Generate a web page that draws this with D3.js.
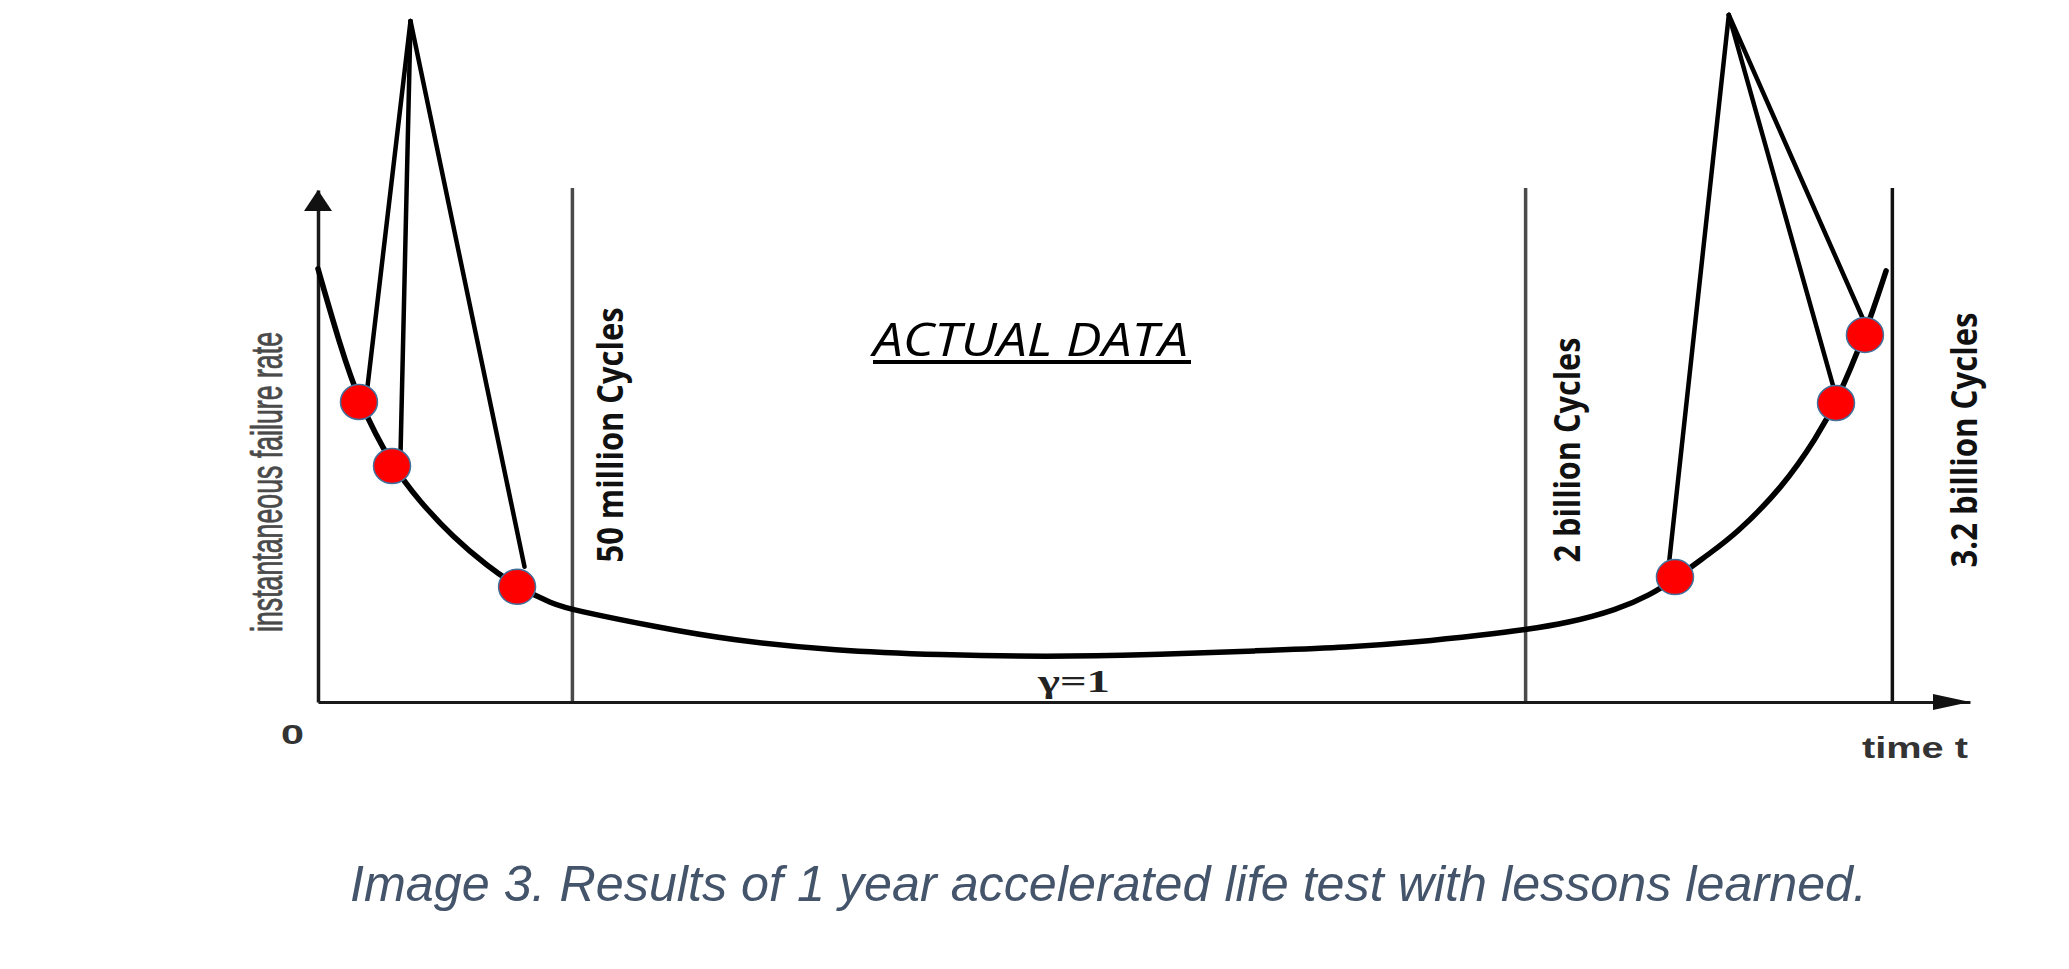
<!DOCTYPE html>
<html>
<head>
<meta charset="utf-8">
<script src="https://cdn.jsdelivr.net/npm/d3@7/dist/d3.min.js"></script>
<style>
  html, body { margin: 0; padding: 0; background: #ffffff; }
  svg { display: block; }
</style>
</head>
<body>
<div id="chart"></div>
<script>
// Bathtub curve (time and rate in % of axis length)
const curveT    = [0, 1.33, 2.48, 4.48, 6.17, 8.17, 10.23, 12.05, 14.23, 15.38, 20.7, 24.94, 31.35, 37.71, 44.07, 50.42, 56.84, 62.47, 66.53, 70.52, 73.06, 75.61, 78.63, 80.63, 82.14, 84.26, 85.77, 88.68, 90.74, 91.89, 93.64, 94.92];
const curveRate = [84.6, 69.7, 58.6, 46.1, 39.1, 32.2, 26.6, 22.5, 19.1, 18.0, 14.5, 12.1, 10.0, 9.2, 8.8, 9.2, 10.0, 10.7, 11.7, 13.1, 14.1, 15.4, 18.0, 20.9, 24.0, 29.1, 32.6, 42.0, 51.8, 58.4, 71.7, 84.2];

// Failures observed during the test (red dots)
const failT    = [2.48, 4.48, 12.05, 82.14, 91.89, 93.64];
const failRate = [58.6, 46.1, 22.5, 24.4, 58.4, 71.7];

// Callout lines: apex for each group and the end point near each dot
const apexT    = [5.6, 5.6, 5.6, 85.4, 85.4, 85.4];
const apexRate = [133, 133, 133, 134.2, 134.2, 134.2];
const tipT     = [3.0, 5.0, 12.5, 81.8, 91.7, 93.5];
const tipRate  = [61.7, 49.2, 26.4, 27.7, 61.9, 75.0];

// Cycle markers
const markerLabels = ['50 million Cycles', '2 billion Cycles', '3.2 billion Cycles'];
const markerT      = [15.4, 73.1, 95.3];
const markerColors = ['#4a4a4a', '#4a4a4a', '#111111'];

const yLabel   = 'instantaneous failure rate';
const xLabel   = 'time t';
const originLabel = '0';
const gammaLabel  = 'γ=1';
const titleLabel  = 'ACTUAL DATA';
const caption  = 'Image 3. Results of 1 year accelerated life test with lessons learned.';

const width = 2069, height = 969;

const svg = d3.select('#chart')
    .append('svg')
    .attr('width', width)
    .attr('height', height)
    .attr('viewBox', [0, 0, width, height]);

const x = d3.scaleLinear().domain([0, 100]).range([318, 1970]);
const y = d3.scaleLinear().domain([0, 100]).range([702, 190]);

// Marker lines (drawn under everything else)
svg.append('g')
    .selectAll('line')
    .data(markerT)
    .join('line')
    .attr('x1', d => x(d))
    .attr('x2', d => x(d))
    .attr('y1', y(0))
    .attr('y2', y(0) - 514)
    .attr('stroke', (d, i) => markerColors[i])
    .attr('stroke-width', 3.5);

// Axes without ticks, just the domain line
const xAxis = svg.append('g')
    .attr('transform', `translate(0,${y(0)})`)
    .call(d3.axisBottom(x).tickValues([]).tickSizeOuter(0));
const yAxis = svg.append('g')
    .attr('transform', `translate(${x(0)},0)`)
    .call(d3.axisLeft(y).tickValues([]).tickSizeOuter(0));
xAxis.select('.domain').attr('stroke', '#1a1a1a').attr('stroke-width', 3);
yAxis.select('.domain').attr('stroke', '#1a1a1a').attr('stroke-width', 3.5);

// Arrow heads
const xr = x.range(), yr = y.range();
svg.append('path')
    .attr('d', `M${xr[1]},${yr[0]} L${xr[1] - 37},${yr[0] - 8} L${xr[1] - 37},${yr[0] + 8} Z`)
    .attr('fill', '#111');
svg.append('path')
    .attr('d', `M${xr[0]},${yr[1]} L${xr[0] - 14},${yr[1] + 21} L${xr[0] + 14},${yr[1] + 21} Z`)
    .attr('fill', '#111');

// Bathtub curve
const curve = curveT.map((t, i) => [t, curveRate[i]]);
svg.append('path')
    .datum(curve)
    .attr('fill', 'none')
    .attr('stroke', '#000')
    .attr('stroke-width', 5.5)
    .attr('stroke-linecap', 'round')
    .attr('d', d3.line()
        .x(d => x(d[0]))
        .y(d => y(d[1]))
        .curve(d3.curveBasis));

// Callout lines
svg.append('g')
    .selectAll('line')
    .data(tipT)
    .join('line')
    .attr('x1', (d, i) => x(apexT[i]))
    .attr('y1', (d, i) => y(apexRate[i]))
    .attr('x2', d => x(d))
    .attr('y2', (d, i) => y(tipRate[i]))
    .attr('stroke', '#000')
    .attr('stroke-width', 4.5)
    .attr('stroke-linecap', 'round');

// Failure dots
svg.append('g')
    .selectAll('ellipse')
    .data(failT)
    .join('ellipse')
    .attr('cx', d => x(d))
    .attr('cy', (d, i) => y(failRate[i]))
    .attr('rx', 18.5)
    .attr('ry', 17.5)
    .attr('fill', '#ff0000')
    .attr('stroke', '#41719c')
    .attr('stroke-width', 1.5);

// Marker labels, rotated
const markerText = [
    { bx: 623, cy: 435, len: 255, size: 36 },
    { bx: 1580, cy: 450, len: 225, size: 35 },
    { bx: 1977, cy: 440, len: 255, size: 35 }
];
svg.append('g')
    .selectAll('text')
    .data(markerLabels)
    .join('text')
    .attr('transform', (d, i) => `translate(${markerText[i].bx},${markerText[i].cy}) rotate(-90)`)
    .attr('text-anchor', 'middle')
    .attr('textLength', (d, i) => markerText[i].len)
    .attr('lengthAdjust', 'spacingAndGlyphs')
    .style('font-family', '"Open Sans", "Noto Sans", sans-serif')
    .style('font-weight', 700)
    .style('font-size', (d, i) => markerText[i].size + 'px')
    .attr('fill', '#111')
    .text(d => d);

// Y axis label
svg.append('text')
    .attr('transform', 'translate(282,482) rotate(-90)')
    .attr('text-anchor', 'middle')
    .attr('textLength', 300)
    .attr('lengthAdjust', 'spacingAndGlyphs')
    .style('font-family', '"Liberation Sans Narrow", "Arial Narrow", "Liberation Sans", sans-serif')
    .style('font-size', '44px')
    .attr('fill', '#4a4a4a')
    .attr('stroke', '#4a4a4a')
    .attr('stroke-width', 0.8)
    .text(yLabel);

// Origin and x label
svg.append('text')
    .attr('x', 281)
    .attr('y', 744)
    .attr('textLength', 23)
    .attr('lengthAdjust', 'spacingAndGlyphs')
    .style('font-family', '"Liberation Sans", Arial, sans-serif')
    .style('font-weight', 700)
    .style('font-size', '27px')
    .attr('fill', '#333')
    .text(originLabel);

svg.append('text')
    .attr('x', 1862)
    .attr('y', 758)
    .attr('textLength', 106)
    .attr('lengthAdjust', 'spacingAndGlyphs')
    .style('font-family', '"Liberation Sans", Arial, sans-serif')
    .style('font-weight', 700)
    .style('font-size', '30px')
    .attr('fill', '#333')
    .text(xLabel);

// gamma note under the flat part
svg.append('text')
    .attr('x', 1038)
    .attr('y', 692)
    .attr('textLength', 72)
    .attr('lengthAdjust', 'spacingAndGlyphs')
    .style('font-family', '"Liberation Serif", "DejaVu Serif", serif')
    .style('font-weight', 700)
    .style('font-size', '32px')
    .attr('fill', '#222')
    .text(gammaLabel);

// Title
svg.append('text')
    .attr('x', 873)
    .attr('y', 356)
    .attr('textLength', 315)
    .attr('lengthAdjust', 'spacingAndGlyphs')
    .style('font-family', '"Open Sans", "Noto Sans", sans-serif')
    .style('font-style', 'italic')
    .style('font-size', '46px')
    .attr('fill', '#000')
    .text(titleLabel);
svg.append('rect')
    .attr('x', 873)
    .attr('y', 360)
    .attr('width', 318)
    .attr('height', 4)
    .attr('fill', '#000');

// Caption
svg.append('text')
    .attr('x', 350)
    .attr('y', 901)
    .attr('textLength', 1517)
    .attr('lengthAdjust', 'spacingAndGlyphs')
    .style('font-family', '"Liberation Sans", Arial, sans-serif')
    .style('font-style', 'italic')
    .style('font-size', '50px')
    .attr('fill', '#44546a')
    .text(caption);
</script>
</body>
</html>
